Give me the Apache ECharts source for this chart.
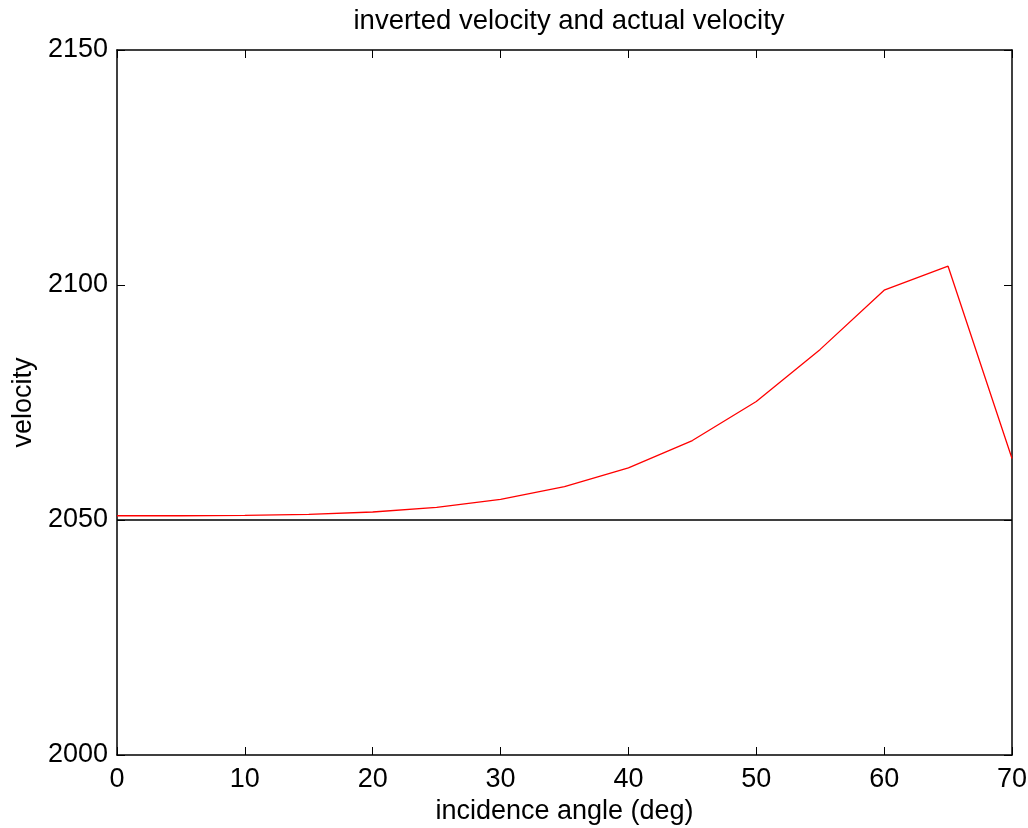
<!DOCTYPE html>
<html>
<head>
<meta charset="utf-8">
<script src="https://cdn.jsdelivr.net/npm/echarts@6/dist/echarts.min.js"></script>
<style>
  html, body { margin: 0; padding: 0; background: #fff; }
  #chart { width: 1028px; height: 828px; }
</style>
</head>
<body>
<div id="chart"></div>
<script>
// Incidence angles (deg)
const angles = [0, 5, 10, 15, 20, 25, 30, 35, 40, 45, 50, 55, 60, 65, 70];
// Inverted velocity at each angle
const invertedVelocity = [2050.9, 2050.9, 2051.0, 2051.2, 2051.7, 2052.7, 2054.4, 2057.1, 2061.1, 2066.9, 2075.2, 2086.3, 2098.9, 2104.0, 2063.1];
// Actual velocity (constant)
const actualVelocity = [2050, 2050, 2050, 2050, 2050, 2050, 2050, 2050, 2050, 2050, 2050, 2050, 2050, 2050, 2050];

const font = 'Liberation Sans, Arial, sans-serif';
const fontSize = 27;
const toPairs = (ys) => angles.map((a, i) => [a, ys[i]]);

const chart = echarts.init(document.getElementById('chart'), null, { renderer: 'canvas' });

const tickStyle = { show: true, inside: true, length: 8, lineStyle: { color: '#000', width: 1 } };
const lineStyle = { color: '#000', width: 1.5 };
const plain = (v) => String(v);

chart.setOption({
  animation: false,
  backgroundColor: '#fff',
  title: {
    text: 'inverted velocity and actual velocity',
    left: 564,
    textAlign: 'center',
    top: 2,
    textStyle: { fontFamily: font, fontSize: 27.5, fontWeight: 'normal', color: '#000' }
  },
  grid: { left: 117, top: 50, right: 16, bottom: 73, outerBoundsMode: 'none', containLabel: false },
  xAxis: [
    {
      type: 'value', min: 0, max: 70, interval: 10,
      name: 'incidence angle (deg)', nameLocation: 'middle', nameGap: 41,
      nameTextStyle: { fontFamily: font, fontSize: fontSize, color: '#000' },
      axisLine: { show: true, onZero: false, lineStyle },
      axisTick: tickStyle,
      axisLabel: { fontFamily: font, fontSize: fontSize, color: '#000', margin: 11, formatter: plain },
      splitLine: { show: false }
    },
    {
      type: 'value', min: 0, max: 70, interval: 10, position: 'top',
      axisLine: { show: true, onZero: false, lineStyle },
      axisTick: tickStyle,
      axisLabel: { show: false },
      splitLine: { show: false }
    }
  ],
  yAxis: [
    {
      type: 'value', min: 2000, max: 2150, interval: 50,
      name: 'velocity', nameLocation: 'middle', nameGap: 71, nameRotate: 90,
      nameTextStyle: { fontFamily: font, fontSize: fontSize, color: '#000' },
      axisLine: { show: true, onZero: false, lineStyle },
      axisTick: tickStyle,
      axisLabel: { fontFamily: font, fontSize: fontSize, color: '#000', margin: 9, formatter: plain },
      splitLine: { show: false }
    },
    {
      type: 'value', min: 2000, max: 2150, interval: 50, position: 'right',
      axisLine: { show: true, onZero: false, lineStyle },
      axisTick: tickStyle,
      axisLabel: { show: false },
      splitLine: { show: false }
    }
  ],
  series: [
    {
      name: 'inverted velocity', type: 'line', data: toPairs(invertedVelocity),
      showSymbol: false, lineStyle: { color: '#ff0000', width: 1.3 }, z: 3
    },
    {
      name: 'actual velocity', type: 'line', data: toPairs(actualVelocity),
      showSymbol: false, lineStyle: { color: '#000000', width: 1.3 }, z: 2
    }
  ]
});
</script>
</body>
</html>
